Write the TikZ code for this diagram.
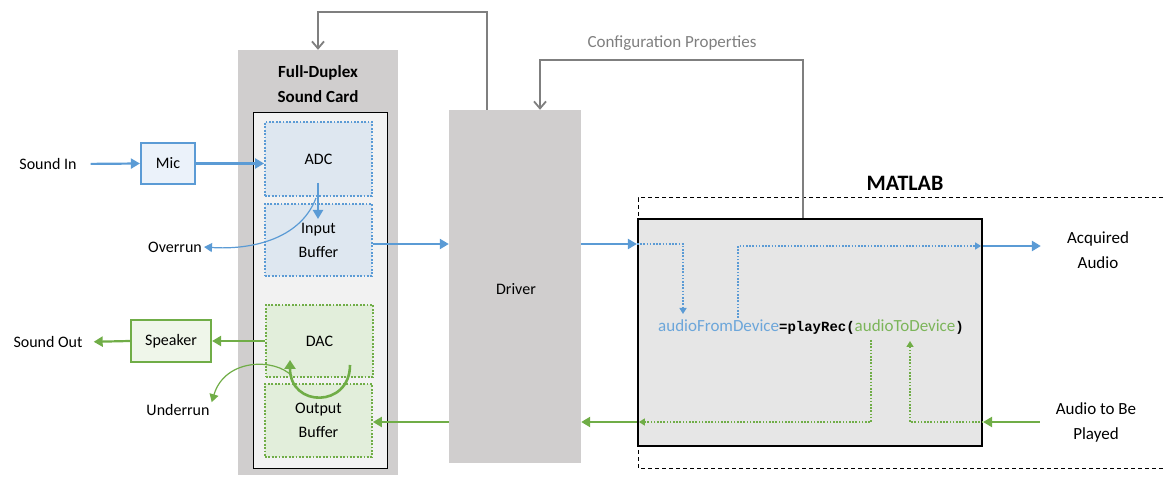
\documentclass[tikz,border=0pt]{standalone}
\usepackage{fontspec}
\setmainfont{Carlito}
\newfontfamily\codefont{Liberation Mono}
\usepackage{tikz}
\usetikzlibrary{arrows.meta}
\usepackage{xcolor}

\definecolor{soundblue}{RGB}{91,155,213}
\definecolor{codeblue}{RGB}{108,166,218}
\definecolor{soundgreen}{RGB}{112,173,71}
\definecolor{codegreen}{RGB}{124,181,90}
\definecolor{linegray}{RGB}{127,127,127}
\definecolor{cardgray}{RGB}{208,206,206}
\definecolor{innergray}{RGB}{242,242,242}
\definecolor{adcfill}{RGB}{222,231,240}
\definecolor{micfill}{RGB}{235,242,250}
\definecolor{dacfill}{RGB}{226,238,219}
\definecolor{spkfill}{RGB}{239,246,234}
\definecolor{matgray}{RGB}{230,230,230}

\tikzset{
  bluebox/.style={draw=soundblue,line width=1.8pt,dash pattern=on 1.8pt off 1.6pt,fill=adcfill,minimum width=107,minimum height=73,align=center,inner sep=0},
  greenbox/.style={draw=soundgreen,line width=1.8pt,dash pattern=on 1.8pt off 1.6pt,fill=dacfill,minimum width=107,minimum height=73,align=center,inner sep=0},
  bluearrow/.style={draw=soundblue,line width=2.2pt,-{Triangle[length=9pt,width=10pt]}},
  greenarrow/.style={draw=soundgreen,line width=2.2pt,-{Triangle[length=9pt,width=10pt]}},
  bluedot/.style={draw=soundblue,line width=2pt,dash pattern=on 1.6pt off 1.6pt,-{Triangle[length=6pt,width=7pt]},shorten >=2pt},
  greendot/.style={draw=soundgreen,line width=2pt,dash pattern=on 1.6pt off 1.6pt,-{Triangle[length=6pt,width=7pt]},shorten >=2pt},
  grayarrow/.style={draw=linegray,line width=1.8pt,-{Straight Barb[length=7pt,width=12pt]}},
  label/.style={align=center,inner sep=2pt},
  biglabel/.style={align=center,inner sep=2pt,font=\fontsize{17}{25}\selectfont}
}

\begin{document}
\begin{tikzpicture}[x=1pt,y=1pt,yscale=-1,font=\fontsize{16}{24}\selectfont]
\useasboundingbox (0,0) rectangle (1165,478);

%Shape: Rectangle [sound card]
\node (card) [fill=cardgray,minimum width=160,minimum height=425,inner sep=0] at (318,262.5) {};
\node (cardin) [draw=black,line width=1pt,fill=innergray,minimum width=134,minimum height=355,inner sep=0] at (320,290.5) {};
\node (cardtitle) [font=\fontsize{17}{25}\selectfont\bfseries,align=center] at (318,84) {Full-Duplex\\Sound Card};
%Shape: Rectangle [converters and buffers]
\node (adc) [bluebox,minimum height=74] at (318.5,159) {ADC};
\node (inbuf) [bluebox,minimum height=72] at (318.5,240) {Input\\Buffer};
\node (dac) [greenbox,minimum height=72] at (319.5,341) {DAC};
\node (outbuf) [greenbox] at (318.5,420.5) {Output\\Buffer};
%Shape: Rectangle [mic and speaker]
\node (mic) [draw=soundblue,line width=2.2pt,fill=micfill,minimum width=54,minimum height=41,inner sep=0] at (168,163.5) {Mic};
\node (speaker) [draw=soundgreen,line width=2.2pt,fill=spkfill,minimum width=80,minimum height=42,inner sep=0] at (171,341) {Speaker};
%Shape: Rectangle [driver]
\node (driver) [fill=cardgray,minimum width=132,minimum height=353,inner sep=0] at (515,286.5) {};
\node (drivertext) at (516,289) {Driver};
%Shape: Rectangle [matlab]
\draw [line width=1pt,dash pattern=on 4pt off 3pt] (1170,198) -- (638,198) -- (638,468) -- (1170,468);
\node (matlab) [draw=black,line width=2.2pt,fill=matgray,minimum width=344,minimum height=227,inner sep=0] at (810,332.5) {};
\node (matlabtitle) [font=\fontsize{22}{26}\selectfont\bfseries] at (905,183) {MATLAB};
\node (code) [font=\fontsize{17}{20}\selectfont] at (811,327) {{\color{codeblue}audioFromDevice}{\codefont\bfseries\fontsize{14}{16}\selectfont =playRec(}{\color{codegreen}audioToDevice}{\codefont\bfseries\fontsize{14}{16}\selectfont )}};

% Text Node
\node (soundin) [label] at (48,164) {Sound In};
\node (soundout) [label] at (48,342) {Sound Out};
\node (overrun) [label] at (175,247) {Overrun};
\node (underrun) [label] at (178,410) {Underrun};
\node (acquired) [biglabel] at (1098,250) {Acquired\\Audio};
\node (played) [biglabel] at (1096,422) {Audio to Be\\Played};
\node (config) [biglabel,text=linegray] at (672,43) {Configuration Properties};

%Coordinates for free ends
\coordinate (adcout) at (318,183);
\coordinate (bufin) at (318,219);
\coordinate (ovstart) at (316,198);
\coordinate (inrow) at (600,244);
\coordinate (outrow) at (1000,246);
\coordinate (playrow) at (1000,422);
\coordinate (fromdev) at (683,316);
\coordinate (fromdevup) at (738,318);
\coordinate (todevdown) at (871,340);
\coordinate (todevup) at (910,339);
\coordinate (loopA) at (350,365);
\coordinate (loopB) at (290,360);
\coordinate (urstart) at (292,376);
\coordinate (drvtap) at (487,12);
\coordinate (cfgtap) at (803,60);
\coordinate (cfgcorner) at (540,60);

%Straight Lines [input path]
\draw [bluearrow,shorten <=12pt] (soundin.east) -- (mic.west);
\draw [bluearrow] (mic.east) -- (adc.west |- mic.east);
\draw [bluearrow] (adcout) -- (bufin);
\draw [draw=soundblue,line width=1.2pt,-{Triangle[length=8pt,width=9pt]}] (ovstart) .. controls (300,240) and (250,250) .. (overrun.east);
\draw [bluearrow] (inbuf.east |- inrow) -- (driver.west |- inrow);
\draw [bluearrow] (driver.east |- inrow) -- (matlab.west |- inrow);
\draw [bluedot] (matlab.west |- inrow) -| (fromdev);
\draw [bluedot] (fromdevup) |- (matlab.east |- outrow);
\draw [bluearrow,shorten >=24pt] (matlab.east |- outrow) -- (acquired.west |- outrow);

%Straight Lines [output path]
\draw [greenarrow,shorten <=14pt] (played.west |- playrow) -- (matlab.east |- playrow);
\draw [greendot] (matlab.east |- playrow) -| (todevup);
\draw [greendot] (todevdown) |- (matlab.west |- playrow);
\draw [greenarrow] (matlab.west |- playrow) -- (driver.east |- playrow);
\draw [greenarrow] (driver.west |- playrow) -- (outbuf.east |- playrow);
\draw [greenarrow] (dac.west) -- (speaker.east);
\draw [greenarrow,shorten >=9pt] (speaker.west) -- (soundout.east);
%Curve Lines [dac loop]
\draw [draw=soundgreen,line width=2.6pt,-{Triangle[length=9pt,width=11pt]}] (loopA) .. controls (350,408) and (290,408) .. (loopB);
\draw [draw=soundgreen,line width=1.2pt,-{Triangle[length=8pt,width=9pt]}] (urstart) .. controls (275,358) and (225,358) .. (underrun.north east);

%Straight Lines [control]
\draw [grayarrow] (drvtap |- driver.north) -- (drvtap) -| (card.north);
\draw [grayarrow] (cfgtap |- matlab.north) -- (cfgtap) -- (cfgcorner) -- (cfgcorner |- driver.north);

\end{tikzpicture}
\end{document}
